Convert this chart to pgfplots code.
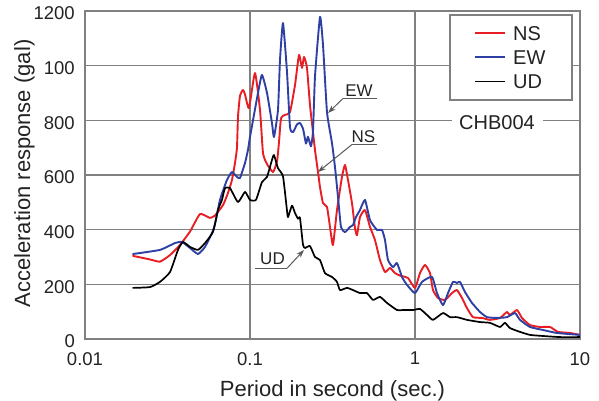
\documentclass[border=0pt]{standalone}
\usepackage{fontspec}
\setmainfont{Liberation Sans}
\usepackage{pgfplots}
\pgfplotsset{compat=1.18}
\usetikzlibrary{arrows.meta}
\definecolor{nsred}{RGB}{232,30,36}
\definecolor{ewblue}{RGB}{46,64,164}
\definecolor{gridgray}{RGB}{128,128,128}
\definecolor{txt}{RGB}{35,35,35}
\definecolor{leader}{RGB}{90,90,90}
\begin{document}
\begin{tikzpicture}[x=1pt,y=1pt]
\useasboundingbox (-85,-62) rectangle (514,339);
\begin{axis}[
 at={(0pt,0pt)}, anchor=south west,
 scale only axis, width=495pt, height=328pt,
 xmode=log, xmin=0.01, xmax=10, ymin=0, ymax=1200,
 xtick={0.01,0.1,1,10}, xticklabels={0.01,0.1,1,10},
 ytick={0,200,400,600,800,1000,1200}, yticklabels={0,200,400,600,800,100,1200},
 minor xtick={},
 tick style={draw=none},
 major tick length=0pt, minor tick length=0pt,
 xmajorgrids=true, ymajorgrids=true,
 major grid style={gridgray, line width=1.1pt},
 axis line style={gridgray, line width=1.2pt},
 tick label style={font=\fontsize{18.5}{22}\selectfont, text=txt},
 xticklabel style={anchor=north, inner sep=0pt, yshift=-13pt},
 yticklabel style={anchor=east, inner sep=0pt, xshift=-10pt, yshift=-2.5pt},
 label style={font=\fontsize{22}{26}\selectfont, text=txt},
 xlabel={Period in second (sec.)},
 ylabel={Acceleration response (gal)},
 xlabel style={at={(axis description cs:0.5,-0.1759)}, anchor=base, inner sep=0pt},
 ylabel style={at={(axis description cs:-0.1111,0.5046)}, anchor=base, inner sep=0pt},
 every axis plot/.append style={line join=round, line cap=round},
]
\addplot[nsred, line width=1.9pt, smooth, tension=0.3] coordinates {
(0.01954,304)(0.02477,291)(0.02847,283)(0.03275,307)(0.03765,344)(0.04329,393)(0.04977,457)(0.05722,443)(0.06136,452)(0.06862,490)(0.07356,534)(0.07779,582)(0.08111,644)(0.08340,700)(0.08457,812)(0.08696,890)(0.0907,911)(0.09326,895)(0.09861,845)(0.1072,973)(0.1150,838)(0.1199,680)(0.1268,640)(0.1379,611)(0.1458,650)(0.1499,720)(0.1542,808)(0.1630,820)(0.1748,830)(0.1874,929)(0.1982,1039)(0.2066,992)(0.2125,1032)(0.2215,992)(0.2310,856)(0.2409,757)(0.2477,691)(0.2583,611)(0.2656,556)(0.2770,497)(0.2929,483)(0.3054,410)(0.3184,344)(0.3367,472)(0.3611,593)(0.3765,637)(0.3926,582)(0.4151,497)(0.4329,406)(0.4451,380)(0.4642,446)(0.4977,472)(0.5337,410)(0.5722,362)(0.6136,289)(0.6579,245)(0.7055,260)(0.7565,241)(0.8111,232)(0.9070,223)(1.0,187)(1.0723,241)(1.1497,271)(1.2328,241)(1.2856,179)(1.3786,150)(1.5199,143)(1.6758,168)(1.7969,179)(1.9269,150)(2.0662,113)(2.2463,80)(2.5469,77)(2.8480,70)(3.2750,77)(3.6106,99)(3.7649,88)(4.1512,106)(4.4513,77)(4.9770,51)(5.7224,44)(6.5793,44)(7.3555,26)(8.6975,22)(10,15)
};
\addplot[ewblue, line width=1.9pt, smooth, tension=0.3] coordinates {
(0.01954,311)(0.02847,326)(0.03510,351)(0.03872,355)(0.04329,333)(0.04839,311)(0.05337,337)(0.05884,388)(0.06136,420)(0.06579,509)(0.07254,582)(0.07779,611)(0.08340,593)(0.08696,589)(0.09326,644)(0.09725,692)(0.1,739)(0.1118,900)(0.1182,966)(0.1268,900)(0.1359,790)(0.1398,739)(0.1478,838)(0.1520,1021)(0.1585,1156)(0.1676,977)(0.1748,775)(0.1822,757)(0.1927,785)(0.2009,790)(0.2095,770)(0.2185,715)(0.2246,740)(0.2342,705)(0.2409,760)(0.2477,960)(0.2656,1178)(0.2770,1076)(0.2929,830)(0.3140,717)(0.3274,629)(0.3415,520)(0.3560,410)(0.3765,391)(0.4037,410)(0.4210,417)(0.4390,446)(0.4642,472)(0.4977,509)(0.5337,435)(0.5884,399)(0.6310,399)(0.6579,362)(0.6861,289)(0.7356,263)(0.7779,278)(0.8340,227)(0.8945,198)(1.0,168)(1.1025,209)(1.2677,227)(1.3594,168)(1.4779,124)(1.5849,168)(1.6995,209)(1.7969,205)(1.8738,209)(2.0091,172)(2.2152,132)(2.4768,99)(2.7310,80)(3.1405,77)(3.6106,80)(4.0370,95)(4.3288,70)(4.9770,44)(5.9671,33)(7.2541,22)(10,15)
};
\addplot[black, line width=1.7pt, smooth, tension=0.3] coordinates {
(0.01954,187)(0.02477,190)(0.02847,209)(0.03275,245)(0.03661,326)(0.03926,355)(0.04329,337)(0.04839,326)(0.05337,351)(0.05967,392)(0.06398,472)(0.06765,509)(0.07055,552)(0.07565,552)(0.08457,501)(0.09326,538)(0.1,509)(0.1087,509)(0.1182,574)(0.1268,593)(0.1359,655)(0.1398,673)(0.1478,625)(0.1585,595)(0.1676,470)(0.1700,446)(0.1797,488)(0.1874,461)(0.1954,440)(0.2009,443)(0.2095,345)(0.2154,333)(0.2310,340)(0.2477,300)(0.2656,289)(0.2848,241)(0.3140,227)(0.3367,209)(0.3511,179)(0.3872,187)(0.4210,179)(0.4642,168)(0.5118,168)(0.5566,143)(0.6136,154)(0.6765,132)(0.7779,106)(0.8459,106)(0.9725,106)(1.0723,110)(1.1822,88)(1.2856,70)(1.4779,95)(1.6298,80)(1.7969,80)(2.0662,70)(2.4768,62)(2.8480,59)(3.2750,44)(3.5112,59)(3.7649,40)(4.3288,26)(4.9770,15)(5.9671,11)(7.5646,7)(10,7)
};
\end{axis}
% legend
\draw[gridgray, line width=1.1pt, fill=white] (365,239) rectangle (487,324);
\draw[nsred, line width=1.9pt] (390,306) -- (420,306);
\draw[ewblue, line width=1.9pt] (390,282) -- (420,282);
\draw[black, line width=1.7pt] (390,257.5) -- (420,257.5);
\begin{scope}[font=\fontsize{20}{24}\selectfont, text=txt]
\node[anchor=west, inner sep=0pt, text height=14.3pt, text depth=0pt] at (428,306) {NS};
\node[anchor=west, inner sep=0pt, text height=14.3pt, text depth=0pt] at (428,282) {EW};
\node[anchor=west, inner sep=0pt, text height=14.3pt, text depth=0pt] at (428,257.5) {UD};
% station label
\node[fill=white, inner xsep=7.7pt, inner ysep=2pt, text height=14.3pt, text depth=0pt] at (412,216.5) {CHB004};
\end{scope}
% annotations
\begin{scope}[font=\fontsize{17}{20}\selectfont, text=txt]
\node[anchor=base, inner sep=0pt] at (274,242.5) {EW};
\draw[leader, line width=1pt] (292,240.5) -- (258,240.5);
\draw[leader, line width=1pt, -{Stealth[length=8pt,width=5.5pt,fill=black]}] (258,240.5) -- (243,226);
\node[anchor=base, inner sep=0pt] at (278.5,196.5) {NS};
\draw[leader, line width=1pt] (292,194.5) -- (267,194.5);
\draw[leader, line width=1pt, -{Stealth[length=8pt,width=5.5pt,fill=black]}] (267,194.5) -- (233,167);
\node[anchor=base, inner sep=0pt] at (187.5,74.7) {UD};
\draw[leader, line width=1pt] (170,70.7) -- (202,70.7);
\draw[leader, line width=1pt, -{Stealth[length=8pt,width=5.5pt,fill=black]}] (202,70.7) -- (219,89);
\end{scope}
\end{tikzpicture}
\end{document}
